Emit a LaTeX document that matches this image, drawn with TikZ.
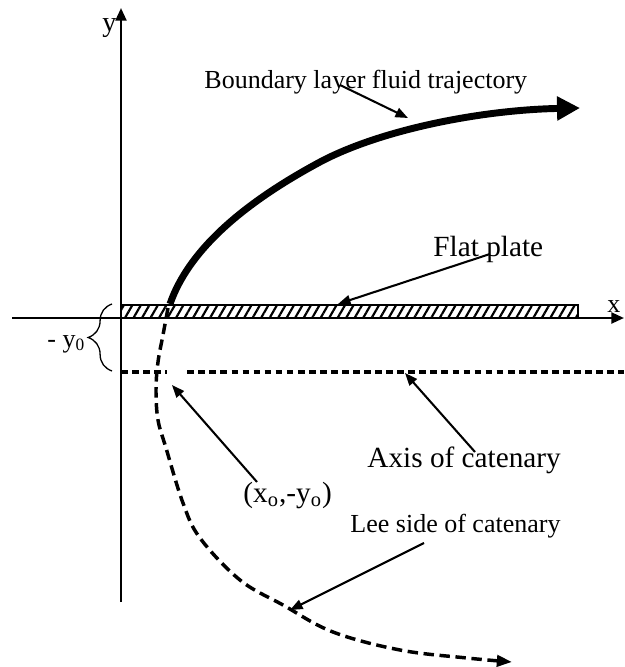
\documentclass[tikz,border=0pt]{standalone}
\usepackage{fontspec}
\setmainfont{Liberation Serif}
\usetikzlibrary{arrows.meta,patterns.meta,decorations.pathreplacing}
\begin{document}
\begin{tikzpicture}[x=0.4615pt,y=-0.4615pt,
  axis/.style={line width=1.1pt,-{Triangle[length=5.8pt,width=5pt]}},
  pointer/.style={line width=0.95pt,-{Triangle[length=5.8pt,width=4.5pt]}},
  traj/.style={line width=3.2pt,-{Triangle[length=10.6pt,width=10.6pt]}},
  lee/.style={line width=1.6pt,dash pattern=on 4.8pt off 2.6pt,-{Triangle[length=7pt,width=5.2pt]}},
  catax/.style={line width=2.1pt,dash pattern=on 3.1pt off 2pt},
  lbl/.style={inner sep=0pt,anchor=base west},
  bigtxt/.style={font=\fontsize{13.5}{16}\selectfont},
  smalltxt/.style={font=\fontsize{12}{14}\selectfont}]
\useasboundingbox (0,0) rectangle (624,667);
% flat plate
\draw[line width=0.6pt,pattern={Lines[angle=60,distance=3.4pt,line width=1pt]}] (121,305) rectangle (578,318);
% axes
\coordinate (xs) at (12,318); \coordinate (xe) at (624,318);
\draw[axis] (xs) -- (xe);
\coordinate (ys) at (121,602); \coordinate (ye) at (121,8);
\draw[axis] (ys) -- (ye);
% axis of catenary
\coordinate (cs) at (121,372); \coordinate (ce) at (624,372);
\draw[catax] (cs) -- (ce);
\fill[white] (167,366) rectangle (183,378);
% boundary layer trajectory
\coordinate (t0) at (170,304); \coordinate (t1) at (320,162); \coordinate (t2) at (580,108);
\draw[traj] (t0) .. controls (188,252) and (240,205) .. (t1) .. controls (380,130) and (480,110) .. (t2);
% lee side of catenary
\draw[lee] plot[smooth,tension=0.6] coordinates {(168,308) (163,335) (158,362) (156,390) (158,420) (166,448) (183,503) (200,538) (240,580) (283,605) (333,632) (400,650) (467,658) (512,662)};
% brace
\draw[line width=0.6pt,decorate,decoration={brace,amplitude=11pt}] (112,371) -- (112,304);
% labels
\node[lbl,smalltxt] (tBL) at (204,89) {Boundary layer fluid trajectory};
\node[lbl,bigtxt] (tFP) at (433,256) {Flat plate};
\node[lbl,bigtxt] (tAC) at (367,467) {Axis of catenary};
\node[lbl,bigtxt] (tXY) at (243,502) {(x\textsubscript{o},-y\textsubscript{o})};
\node[lbl,smalltxt] (tLS) at (350,532) {Lee side of catenary};
\node[lbl,smalltxt] (tY0) at (47,347) {- y\textsubscript{0}};
\node[lbl,font=\fontsize{12}{14}\selectfont] (tx) at (607,312) {x};
\node[lbl,font=\fontsize{13}{15}\selectfont] (ty) at (102,32) {y};
% pointers
\coordinate (p1s) at (340,85); \coordinate (p1e) at (408,118);
\draw[pointer] (p1s) -- (p1e);
\coordinate (p2s) at (490,254); \coordinate (p2e) at (338,304);
\draw[pointer] (p2s) -- (p2e);
\coordinate (p3s) at (475,452); \coordinate (p3e) at (405,373);
\draw[pointer] (p3s) -- (p3e);
\coordinate (p4s) at (257,482); \coordinate (p4e) at (172,385);
\draw[pointer] (p4s) -- (p4e);
\coordinate (p5s) at (424,543); \coordinate (p5e) at (290,610);
\draw[pointer] (p5s) -- (p5e);
\end{tikzpicture}
\end{document}
